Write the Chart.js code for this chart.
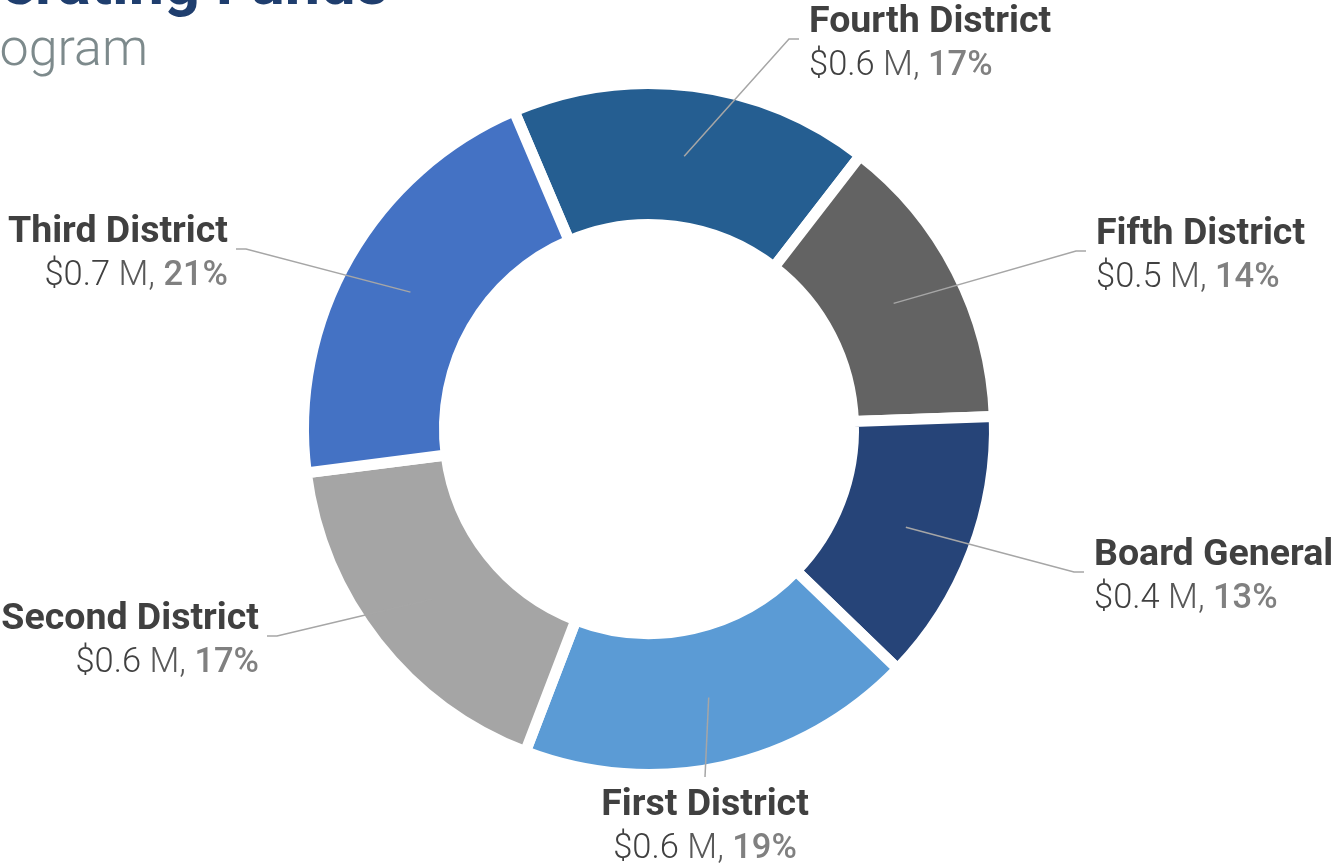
<!DOCTYPE html>
<html>
<head>
<meta charset="utf-8">
<script src="https://cdn.jsdelivr.net/npm/chart.js@4/dist/chart.umd.min.js"></script>
<style>
  html, body { margin: 0; padding: 0; background: #fff; overflow: hidden; }
  #wrap { position: relative; width: 1336px; height: 868px; }
  #wrap canvas { position: absolute; left: 0; top: 0; }
  .title, .sub { position: absolute; white-space: nowrap; font-family: Roboto, sans-serif; text-align: right; line-height: normal; }
  .title { right: 948px; top: -54px; font-size: 63px; font-weight: bold; color: #1f3e6e; }
  .sub { right: 1188px; top: 17px; font-size: 52px; font-weight: 300; color: #7d8a8c; }
</style>
</head>
<body>
<div id="wrap">
  <div class="title">Operating Funds</div>
  <div class="sub">by Program</div>
  <canvas id="chart" width="1336" height="868"></canvas>
</div>
<script>
// Operating funds by program, in $ millions, clockwise from the top.
const programs = ["Fourth District", "Fifth District", "Board General", "First District", "Second District", "Third District"];
const fundsM = [0.58, 0.48, 0.44, 0.64, 0.59, 0.71];
const colors = ["#255e91", "#636363", "#264478", "#5b9bd5", "#a5a5a5", "#4472c4"];

// Where each leader line ends, relative to the doughnut centre, and which way its text runs.
const labelAt = [
  { dx: 150, dy: -390, side: "left" },
  { dx: 437, dy: -178, side: "left" },
  { dx: 435, dy: 143, side: "left" },
  { dx: 56, dy: 348, side: "center" },
  { dx: -382, dy: 207, side: "right" },
  { dx: -413, dy: -180, side: "right" },
];

const total = fundsM.reduce((a, b) => a + b, 0);
const pct = (v) => Math.round((v / total) * 100) + "%";

const calloutPlugin = {
  id: "callouts",
  afterDatasetsDraw(chart) {
    const ctx = chart.ctx;
    const arcs = chart.getDatasetMeta(0).data;
    ctx.save();
    arcs.forEach((arc, i) => {
      const { x, y, startAngle, endAngle, innerRadius, outerRadius } = arc.getProps(
        ["x", "y", "startAngle", "endAngle", "innerRadius", "outerRadius"], true);
      const mid = (startAngle + endAngle) / 2;
      const r = (innerRadius + outerRadius) / 2;
      const sx = x + Math.cos(mid) * r, sy = y + Math.sin(mid) * r;
      const L = labelAt[i];
      const ex = x + L.dx, ey = y + L.dy;

      ctx.strokeStyle = "#a6a6a6";
      ctx.lineWidth = 1.5;
      ctx.beginPath();
      ctx.moveTo(sx, sy);
      if (L.side === "center") {
        ctx.lineTo(ex, ey);
      } else {
        const bx = L.side === "left" ? ex - 10 : ex + 10;
        ctx.lineTo(bx, ey);
        ctx.lineTo(ex, ey);
      }
      ctx.stroke();

      // text block
      let tx, nameY;
      if (L.side === "left") { tx = ex + 10; nameY = ey - 7; }
      else if (L.side === "right") { tx = ex - 8; nameY = ey - 7; }
      else { tx = ex; nameY = ey + 38; }
      const valY = nameY + 43;

      ctx.textBaseline = "alphabetic";
      ctx.font = "bold 37.5px Roboto";
      ctx.fillStyle = "#404040";
      ctx.textAlign = L.side === "center" ? "center" : L.side === "left" ? "left" : "right";
      ctx.fillText(programs[i], tx, nameY);

      const parts = [
        ["$" + fundsM[i].toFixed(1), "300 34.5px Roboto", "#404040"],
        [" M, ", "300 34.5px Roboto", "#595959"],
        [pct(fundsM[i]), "500 34.5px Roboto", "#808080"],
      ];
      const widths = parts.map(([t, f]) => { ctx.font = f; return ctx.measureText(t).width; });
      const w = widths.reduce((a, b) => a + b, 0);
      let px = L.side === "left" ? tx : L.side === "right" ? tx - w : tx - w / 2;
      ctx.textAlign = "left";
      parts.forEach(([t, f, c], k) => {
        ctx.font = f;
        ctx.fillStyle = c;
        ctx.fillText(t, px, valY);
        px += widths[k];
      });
    });
    ctx.restore();
  },
};

new Chart(document.getElementById("chart"), {
  type: "doughnut",
  data: {
    labels: programs,
    datasets: [{
      data: fundsM,
      backgroundColor: colors,
      borderColor: "#ffffff",
      borderWidth: 11,
      hoverOffset: 0,
    }],
  },
  options: {
    responsive: false,
    animation: false,
    rotation: -23,
    cutout: "59.2%",
    layout: { padding: { left: 298, right: 336, top: 78, bottom: 88 } },
    plugins: { legend: { display: false }, tooltip: { enabled: false } },
  },
  plugins: [calloutPlugin],
});
</script>
</body>
</html>
